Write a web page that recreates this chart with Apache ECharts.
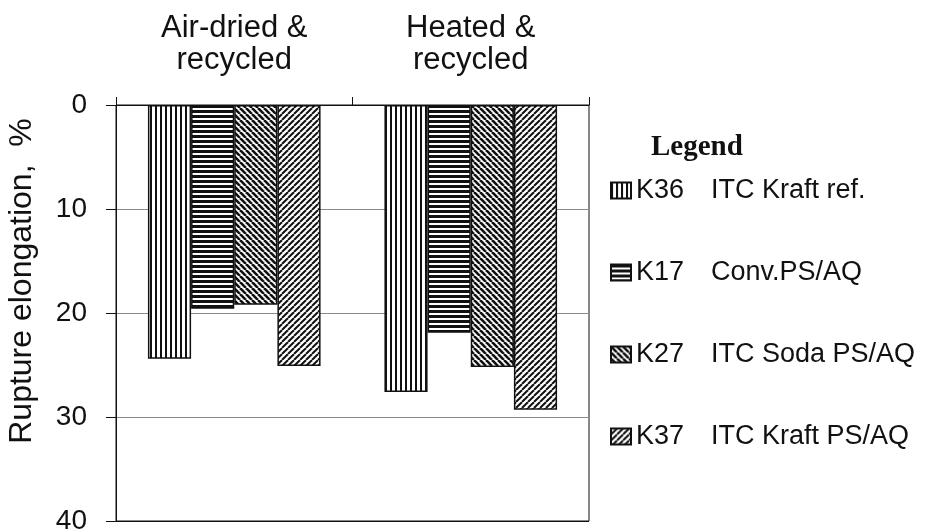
<!DOCTYPE html>
<html>
<head>
<meta charset="utf-8">
<script src="https://cdn.jsdelivr.net/npm/echarts@6/dist/echarts.min.js"></script>
<style>
  html, body { margin: 0; padding: 0; background: #fff; }
  #chart { width: 927px; height: 529px; }
</style>
</head>
<body>
<div id="chart"></div>
<script>
const categories = ['Air-dried &\nrecycled', 'Heated &\nrecycled'];
const seriesNames = ['K36', 'K17', 'K27', 'K37'];
const seriesDesc = ['ITC Kraft ref.', 'Conv.PS/AQ', 'ITC Soda PS/AQ', 'ITC Kraft PS/AQ'];
const k36 = [24.4, 27.6];
const k17 = [19.6, 21.9];
const k27 = [19.2, 25.2];
const k37 = [25.1, 29.3];
const yTicks = [0, 10, 20, 30, 40];

// hatch fills drawn on small canvases
function makePattern(kind) {
  const s = kind === 'v' || kind === 'h' ? 5 : 6;
  const c = document.createElement('canvas');
  c.width = s;
  c.height = s;
  const ctx = c.getContext('2d');
  ctx.fillStyle = '#fff';
  ctx.fillRect(0, 0, s, s);
  ctx.strokeStyle = '#111';
  ctx.fillStyle = '#111';
  if (kind === 'v') {
    ctx.fillRect(0, 0, 2, s);
  } else if (kind === 'h') {
    ctx.fillRect(0, 0, s, 3);
  } else {
    ctx.lineWidth = kind === 'back' ? 2.6 : 2.0;
    for (let k = -1; k <= 1; k++) {
      ctx.beginPath();
      if (kind === 'back') {
        ctx.moveTo(k * s, 0);
        ctx.lineTo(k * s + s, s);
      } else {
        ctx.moveTo(k * s, s);
        ctx.lineTo(k * s + s, 0);
      }
      ctx.stroke();
    }
  }
  return { image: c, repeat: 'repeat' };
}

const fills = [makePattern('v'), makePattern('h'), makePattern('back'), makePattern('fwd')];
const values = [k36, k17, k27, k37];

const chart = echarts.init(document.getElementById('chart'));

const font = 'Liberation Sans, Arial, sans-serif';

const option = {
  animation: false,
  backgroundColor: '#fff',
  title: {
    text: 'Legend',
    left: 646,
    top: 128,
    textStyle: {
      fontFamily: 'Liberation Serif, Times New Roman, serif',
      fontWeight: 'bold',
      fontSize: 29,
      color: '#111'
    }
  },
  grid: {
    left: 116,
    right: 338,
    top: 105,
    bottom: 8,
    outerBoundsMode: 'none',
    show: true,
    borderColor: '#111',
    borderWidth: 1
  },
  legend: {
    orient: 'vertical',
    left: 605,
    top: 172,
    icon: 'rect',
    itemWidth: 20,
    itemHeight: 16,
    itemGap: 55,
    data: seriesNames,
    formatter: function (name) {
      return '{a|' + name + '}{b|' + seriesDesc[seriesNames.indexOf(name)] + '}';
    },
    textStyle: {
      fontFamily: font,
      color: '#111',
      rich: {
        a: { width: 75, fontSize: 27, fontFamily: font, color: '#111', lineHeight: 29 },
        b: { fontSize: 27, fontFamily: font, color: '#111', lineHeight: 29 }
      }
    }
  },
  xAxis: {
    type: 'category',
    position: 'top',
    data: categories,
    axisLine: { show: true, lineStyle: { color: '#111', width: 1 } },
    axisTick: { show: true, length: 8, lineStyle: { color: '#111' } },
    axisLabel: {
      fontFamily: font,
      fontSize: 31,
      lineHeight: 32,
      color: '#111',
      margin: 29
    },
    splitLine: { show: false }
  },
  yAxis: {
    type: 'value',
    inverse: true,
    min: yTicks[0],
    max: yTicks[yTicks.length - 1],
    interval: 10,
    name: 'Rupture elongation,  %',
    nameLocation: 'middle',
    nameGap: 78,
    nameTextStyle: { fontFamily: font, fontSize: 32, color: '#111', padding: [0, 0, 0, 64] },
    axisLine: { show: true, lineStyle: { color: '#111', width: 1 } },
    axisTick: { show: true, length: 10, lineStyle: { color: '#111' } },
    axisLabel: { fontFamily: font, fontSize: 28, color: '#111', margin: 29 },
    splitLine: {
      show: true,
      lineStyle: { color: ['#111', '#8a8a8a', '#8a8a8a', '#8a8a8a', '#111'], width: 1 }
    }
  },
  series: seriesNames.map(function (n, i) {
    return {
      name: n,
      type: 'bar',
      data: values[i],
      barGap: '0%',
      barCategoryGap: '27%',
      itemStyle: {
        color: fills[i],
        borderColor: '#111',
        borderWidth: 1.5
      }
    };
  })
};

chart.setOption(option);
window.addEventListener('resize', chart.resize);
</script>
</body>
</html>
